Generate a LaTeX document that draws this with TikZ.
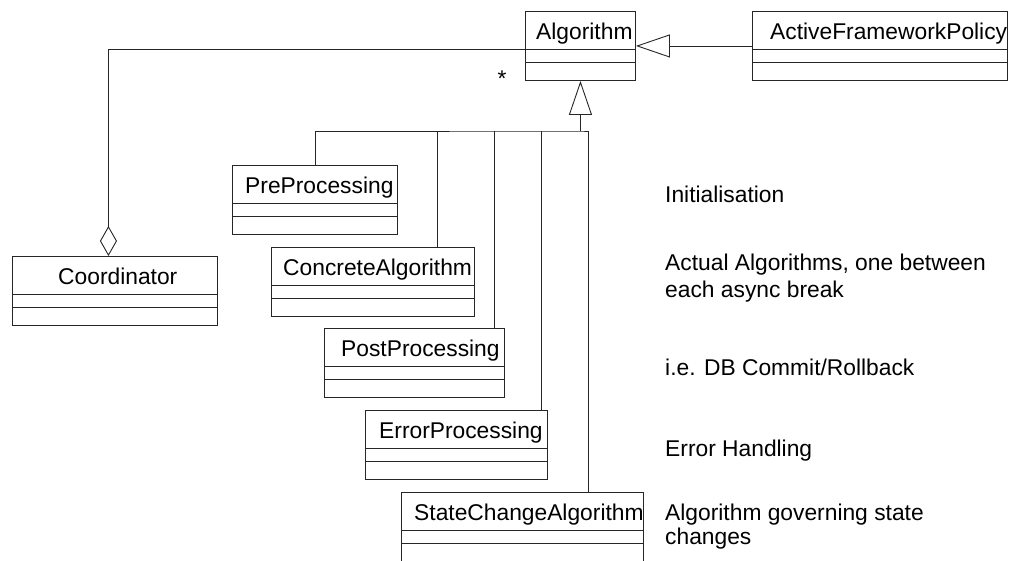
\documentclass[tikz,border=0pt]{standalone}
\usepackage{fontspec}
\setmainfont{Liberation Sans}
\usetikzlibrary{arrows.meta,calc}

\begin{document}
\begin{tikzpicture}[x=1pt,y=-1pt,
  line/.style={draw=black!85, line width=0.9pt},
  cls/.style={line, rectangle, inner sep=0pt, minimum height=69pt, anchor=north west,
    path picture={
      \draw[black!85, line width=0.9pt]
        ([yshift=-37.5pt]path picture bounding box.north west) -- ([yshift=-37.5pt]path picture bounding box.north east)
        ([yshift=-51pt]path picture bounding box.north west) -- ([yshift=-51pt]path picture bounding box.north east);}},
  label text/.style={font=\fontsize{22.8}{26}\selectfont, anchor=base west, inner sep=0pt},
  gen/.style={line, -{Triangle[open, length=34pt, width=23pt]}},
  agg/.style={line, {Diamond[open, length=30pt, width=17pt]}-}
]
\useasboundingbox (0,0) rectangle (1016,560);

% class boxes
\node[cls, minimum width=110pt] (alg)   at (525,11)  {};
\node[cls, minimum width=255pt] (afp)   at (752,11)  {};
\node[cls, minimum width=205pt] (coord) at (12,256)  {};
\node[cls, minimum width=165pt] (pre)   at (232,165) {};
\node[cls, minimum width=203pt] (conc)  at (271,247) {};
\node[cls, minimum width=180pt] (post)  at (324,328) {};
\node[cls, minimum width=182pt] (err)   at (365,410) {};
\node[cls, minimum width=242pt] (sca)   at (401,492) {};

% class names
\node[label text] (alg-n)   at (536,39.5)  {Algorithm};
\node[label text] (afp-n)   at (770,39.5)  {ActiveFrameworkPolicy};
\node[label text] (coord-n) at (58,284)    {Coordinator};
\node[label text] (pre-n)   at (245,193.5) {PreProcessing};
\node[label text] (conc-n)  at (283,275)   {ConcreteAlgorithm};
\node[label text] (post-n)  at (341,356.5) {PostProcessing};
\node[label text] (err-n)   at (379,438.5) {ErrorProcessing};
\node[label text] (sca-n)   at (414,520.5) {StateChangeAlgorithm};

% multiplicity
\node[label text, anchor=base] (mult) at (502,86) {*};

% annotations
\node[label text] (n1)  at (665,202) {Initialisation};
\node[label text] (n2a) at (665,270) {Actual Algorithms, one between};
\node[label text] (n2b) at (665,297) {each async break};
\node[label text] (n3)  at (665,375) {i.e. DB Commit/Rollback};
\node[label text] (n4)  at (665,456) {Error Handling};
\node[label text] (n5a) at (665,520) {Algorithm governing state};
\node[label text] (n5b) at (665,544) {changes};

% generalisation: ActiveFrameworkPolicy -> Algorithm
\draw[gen] (afp.west) -- (alg.east);

% generalisation tree below Algorithm
\coordinate (jn) at (alg.south |- 0,131);
\coordinate (scaT)  at ([xshift=66pt]sca.north);
\coordinate (concT) at ([xshift=64.5pt]conc.north);
\coordinate (postT) at ([xshift=80pt]post.north);
\coordinate (errT)  at ([xshift=85pt]err.north);
\draw[gen] (jn) -- (alg.south);
\draw[line] (pre.north) |- (jn) -| (scaT);
\draw[line] (concT) -- (concT |- jn);
\draw[line] (postT) -- (postT |- jn);
\draw[line] (errT)  -- (errT |- jn);

% aggregation: Coordinator <>-- Algorithm
\coordinate (coordT) at ([xshift=-6.5pt]coord.north);
\coordinate (algL)   at ([yshift=-3pt]alg.west);
\draw[agg] (coordT) |- (algL);
\end{tikzpicture}
\end{document}
